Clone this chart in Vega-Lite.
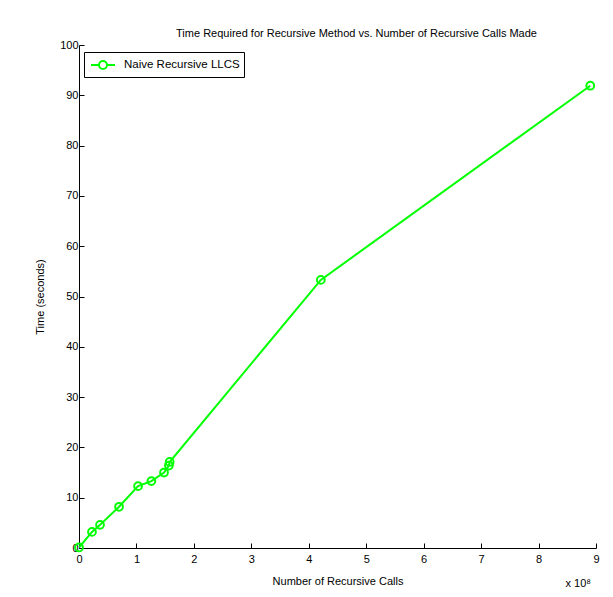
{
  "$schema": "https://vega.github.io/schema/vega-lite/v6.json",
  "width": 517,
  "height": 503,
  "autosize": {"type": "none"},
  "padding": {"left": 79, "top": 45, "right": 17, "bottom": 49},
  "background": "white",
  "title": {
    "text": "Time Required for Recursive Method vs. Number of Recursive Calls Made",
    "font": "Liberation Sans",
    "fontSize": 11,
    "fontWeight": "normal",
    "color": "black",
    "offset": 0,
    "dx": 19,
    "anchor": "middle"
  },
  "config": {
    "view": {"stroke": null},
    "axis": {
      "labelFont": "Liberation Sans",
      "labelFontSize": 11,
      "labelColor": "black",
      "titleFont": "Liberation Sans",
      "titleFontSize": 11,
      "titleFontWeight": "normal",
      "titleColor": "black",
      "domainColor": "black",
      "tickColor": "black",
      "grid": false
    }
  },
  "data": {
    "values": [
      {"calls": 0, "time": 0.1, "series": "Naive Recursive LLCS"},
      {"calls": 22600000, "time": 3.2, "series": "Naive Recursive LLCS"},
      {"calls": 36600000, "time": 4.6, "series": "Naive Recursive LLCS"},
      {"calls": 69700000, "time": 8.2, "series": "Naive Recursive LLCS"},
      {"calls": 102800000, "time": 12.3, "series": "Naive Recursive LLCS"},
      {"calls": 126000000, "time": 13.3, "series": "Naive Recursive LLCS"},
      {"calls": 148000000, "time": 15.0, "series": "Naive Recursive LLCS"},
      {"calls": 156500000, "time": 16.4, "series": "Naive Recursive LLCS"},
      {"calls": 157800000, "time": 17.1, "series": "Naive Recursive LLCS"},
      {"calls": 421000000, "time": 53.3, "series": "Naive Recursive LLCS"},
      {"calls": 890000000, "time": 91.9, "series": "Naive Recursive LLCS"}
    ]
  },
  "layer": [
    {
      "mark": {
        "type": "line",
        "strokeWidth": 2,
        "clip": false,
        "point": {"filled": false, "shape": "circle", "size": 60, "strokeWidth": 2, "color": "#00ff00"}
      },
      "encoding": {
        "x": {
          "field": "calls",
          "type": "quantitative",
          "scale": {"domain": [0, 900000000], "nice": false, "zero": false},
          "axis": {
            "title": "Number of Recursive Calls",
            "values": [0, 100000000, 200000000, 300000000, 400000000, 500000000, 600000000, 700000000, 800000000, 900000000],
            "labelExpr": "format(datum.value / 100000000, 'd')",
            "tickSize": -5,
            "labelPadding": 10,
            "titlePadding": 11,
            "labelFlush": false
          }
        },
        "y": {
          "field": "time",
          "type": "quantitative",
          "scale": {"domain": [0, 100], "nice": false},
          "axis": {
            "title": "Time (seconds)",
            "values": [0, 10, 20, 30, 40, 50, 60, 70, 80, 90, 100],
            "tickSize": -5,
            "labelPadding": 6,
            "titlePadding": 14,
            "labelFlush": false
          }
        },
        "color": {
          "field": "series",
          "type": "nominal",
          "scale": {"range": ["#00ff00"]},
          "legend": {
            "title": null,
            "orient": "none",
            "legendX": 5,
            "legendY": 7,
            "direction": "vertical",
            "strokeColor": "black",
            "fillColor": "white",
            "padding": 4,
            "symbolType": "M-1.5,0H-0.5M0.5,0H1.5M-0.5,0A0.5,0.5 0 1,1 0.5,0A0.5,0.5 0 1,1 -0.5,0",
            "symbolSize": 256,
            "symbolStrokeWidth": 2,
            "symbolFillColor": "transparent",
            "symbolStrokeColor": "#00ff00",
            "symbolOffset": 6,
            "labelOffset": 12,
            "labelFont": "Liberation Sans",
            "labelFontSize": 11.5,
            "labelColor": "black"
          }
        }
      }
    },
    {
      "data": {"values": [{"calls": 900000000, "time": 0, "note": "x 10⁸"}]},
      "mark": {"type": "text", "align": "right", "baseline": "middle", "dy": 36, "dx": -5, "font": "Liberation Sans", "fontSize": 11, "color": "black", "clip": false},
      "encoding": {
        "x": {"field": "calls", "type": "quantitative"},
        "y": {"field": "time", "type": "quantitative"},
        "text": {"field": "note"}
      }
    }
  ]
}
